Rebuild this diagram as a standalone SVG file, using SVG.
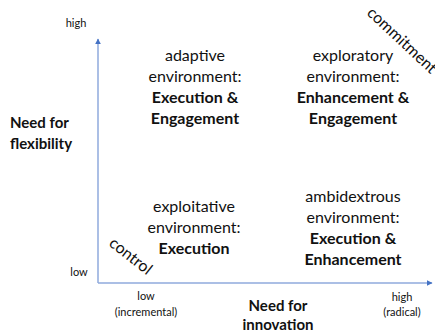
<svg xmlns="http://www.w3.org/2000/svg" width="435" height="332" viewBox="0 0 435 332">
  <defs>
    <marker id="arrow" viewBox="0 0 10 10" refX="9" refY="5" markerWidth="6" markerHeight="6" markerUnits="userSpaceOnUse" orient="auto">
      <path d="M0,0 L10,5 L0,10 Z" fill="#4472C4"/>
    </marker>
    <style>
      text { font-family: Lato, "Noto Sans", "Liberation Sans", sans-serif; fill: #111; }
      .q { font-size: 16px; text-anchor: middle; }
      .b { font-weight: bold; }
      .tick { font-size: 11px; text-anchor: middle; }
      .axis-title { font-size: 15px; font-weight: bold; }
      .diag { font-size: 16px; }
      .axis { stroke: #8FAADC; stroke-width: 1.5; fill: none; }
    </style>
  </defs>

  <!-- axes -->
  <g id="connectors">
    <line class="axis" x1="98" y1="283" x2="98" y2="39" marker-end="url(#arrow)"/>
    <line class="axis" x1="98" y1="283" x2="432" y2="283" marker-end="url(#arrow)"/>
  </g>

  <!-- vertical axis labels -->
  <g id="y-axis-labels">
    <text class="tick" x="76" y="27">high</text>
    <text class="tick" x="79" y="276">low</text>
    <text class="axis-title" x="10" y="128">Need for</text>
    <text class="axis-title" x="10" y="149">flexibility</text>
  </g>

  <!-- horizontal axis labels -->
  <g id="x-axis-labels">
    <text class="tick" x="146" y="300">low</text>
    <text class="tick" x="146" y="316">(incremental)</text>
    <text class="tick" x="402" y="301">high</text>
    <text class="tick" x="402" y="316">(radical)</text>
    <text class="axis-title" x="278" y="311" text-anchor="middle">Need for</text>
    <text class="axis-title" x="278" y="330" text-anchor="middle">innovation</text>
  </g>

  <!-- quadrants -->
  <g id="adaptive">
    <text class="q" x="195" y="61">adaptive</text>
    <text class="q" x="195" y="82">environment:</text>
    <text class="q b" x="195" y="103">Execution &amp;</text>
    <text class="q b" x="195" y="124">Engagement</text>
  </g>
  <g id="exploratory">
    <text class="q" x="353" y="61">exploratory</text>
    <text class="q" x="353" y="82">environment:</text>
    <text class="q b" x="353" y="103">Enhancement &amp;</text>
    <text class="q b" x="353" y="124">Engagement</text>
  </g>
  <g id="exploitative">
    <text class="q" x="194" y="212">exploitative</text>
    <text class="q" x="194" y="233">environment:</text>
    <text class="q b" x="194" y="254">Execution</text>
  </g>
  <g id="ambidextrous">
    <text class="q" x="353" y="202">ambidextrous</text>
    <text class="q" x="353" y="223">environment:</text>
    <text class="q b" x="353" y="244">Execution &amp;</text>
    <text class="q b" x="353" y="265">Enhancement</text>
  </g>

  <!-- diagonal labels -->
  <g id="control">
    <text class="diag" transform="translate(108,245) rotate(38)">control</text>
  </g>
  <g id="commitment">
    <text class="diag" transform="translate(366,14) rotate(43)">commitment</text>
  </g>
</svg>
